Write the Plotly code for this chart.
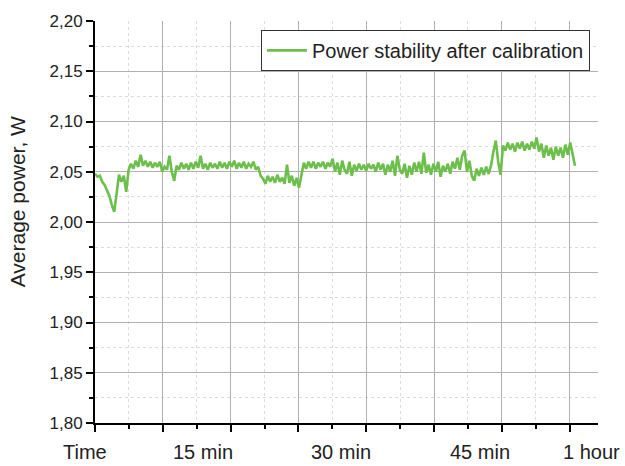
import plotly.graph_objects as go
import numpy as np

# ---- data ----
sample_step_min = 0.3  # minutes between samples
power_w = [
    2.048, 2.045, 2.046, 2.040, 2.037, 2.031, 2.026, 2.017, 2.010, 2.028,
    2.047, 2.040, 2.046, 2.030, 2.052, 2.058, 2.053, 2.061, 2.055, 2.067,
    2.056, 2.061, 2.055, 2.060, 2.054, 2.059, 2.055, 2.060, 2.050, 2.055,
    2.052, 2.066, 2.050, 2.041, 2.056, 2.052, 2.059, 2.053, 2.058, 2.052,
    2.059, 2.053, 2.060, 2.054, 2.066, 2.053, 2.058, 2.052, 2.059, 2.054,
    2.058, 2.053, 2.060, 2.054, 2.059, 2.053, 2.060, 2.055, 2.061, 2.053,
    2.059, 2.054, 2.060, 2.053, 2.058, 2.055, 2.060, 2.052, 2.055, 2.046,
    2.043, 2.038, 2.046, 2.040, 2.045, 2.039, 2.047, 2.040, 2.044, 2.038,
    2.057, 2.039, 2.046, 2.036, 2.044, 2.034, 2.047, 2.059, 2.053, 2.060,
    2.054, 2.060, 2.053, 2.059, 2.055, 2.060, 2.053, 2.059, 2.055, 2.063,
    2.050, 2.059, 2.047, 2.061, 2.052, 2.048, 2.060, 2.046, 2.057, 2.051,
    2.058, 2.052, 2.057, 2.051, 2.058, 2.053, 2.057, 2.050, 2.059, 2.052,
    2.058, 2.047, 2.057, 2.050, 2.061, 2.046, 2.066, 2.052, 2.048, 2.058,
    2.044, 2.056, 2.047, 2.059, 2.050, 2.060, 2.048, 2.069, 2.049, 2.057,
    2.047, 2.058, 2.050, 2.060, 2.045, 2.056, 2.050, 2.058, 2.048, 2.060,
    2.053, 2.064, 2.052, 2.066, 2.071, 2.050, 2.061, 2.046, 2.041, 2.053,
    2.046, 2.054, 2.047, 2.055, 2.048, 2.056, 2.070, 2.081, 2.060, 2.047,
    2.076, 2.071, 2.079, 2.072, 2.078, 2.070, 2.079, 2.073, 2.080, 2.071,
    2.078, 2.072, 2.080, 2.073, 2.084, 2.070, 2.078, 2.064, 2.076, 2.066,
    2.074, 2.062, 2.075, 2.066, 2.074, 2.064, 2.077, 2.067, 2.079, 2.066,
    2.056,
]
time_min = np.arange(len(power_w)) * sample_step_min

x_label_text = ["Time", "15 min", "30 min", "45 min", "1 hour"]
x_label_pos = [-1.25, 13.5, 30.75, 48.1, 62.1]  # minutes

series_name = "Power stability after calibration"
y_title = "Average power, W"

# ---- style ----
FONT = "Liberation Sans, Arial, sans-serif"
TXT = "#222222"
GREEN = "#6cbf4a"
X_RANGE = [0, 62.875]
Y_RANGE = [1.80, 2.20]
X_MAJOR = 8.475
Y_MAJOR = 0.05

fig = go.Figure()
fig.add_trace(go.Scatter(
    x=time_min, y=power_w, mode="lines", name=series_name,
    line=dict(color=GREEN, width=2.6), xaxis="x", yaxis="y",
))

common_grid = dict(showgrid=True, gridcolor="#b0b0b0", gridwidth=1, zeroline=False)

fig.update_layout(
    width=625, height=466,
    margin=dict(l=95, r=27, t=17, b=43),
    paper_bgcolor="white", plot_bgcolor="white",
    separators=",.",
    font=dict(family=FONT, color=TXT, size=17),
    showlegend=True,
    legend=dict(
        x=0.984, xanchor="right", y=0.978, yanchor="top",
        bordercolor="#333333", borderwidth=1, bgcolor="white",
        font=dict(size=20, family=FONT, color=TXT),
        tracegroupgap=0, itemwidth=40,
    ),
    xaxis=dict(
        range=X_RANGE, tickmode="linear", tick0=0, dtick=X_MAJOR,
        showticklabels=False, ticks="outside", ticklen=7, tickwidth=1.5,
        tickcolor="black", showline=True, linecolor="black", linewidth=2,
        minor=dict(dtick=X_MAJOR / 2, ticks="outside", ticklen=4, tickwidth=1.5,
                   tickcolor="black", showgrid=True, gridcolor="#dcdcdc",
                   griddash="dot", gridwidth=1),
        **common_grid,
    ),
    xaxis2=dict(
        range=X_RANGE, overlaying="x", side="top", tickmode="linear", tick0=0,
        dtick=X_MAJOR, showticklabels=False, ticks="inside", ticklen=6,
        tickwidth=1.5, tickcolor="black", showline=True, linecolor="black",
        linewidth=2, showgrid=False, zeroline=False,
        minor=dict(dtick=X_MAJOR / 2, ticks="inside", ticklen=6, tickwidth=1.5,
                   tickcolor="black", showgrid=False),
    ),
    yaxis=dict(
        range=Y_RANGE, tickmode="linear", tick0=1.80, dtick=Y_MAJOR,
        tickformat=".2f", ticks="outside", ticklen=7, tickwidth=1.5,
        tickcolor="black", showline=True, linecolor="black", linewidth=2,
        tickfont=dict(size=17, family=FONT, color=TXT),
        minor=dict(dtick=Y_MAJOR / 2, ticks="outside", ticklen=4, tickwidth=1.5,
                   tickcolor="black", showgrid=True, gridcolor="#dcdcdc",
                   griddash="dot", gridwidth=1),
        **common_grid,
    ),
    yaxis2=dict(
        range=Y_RANGE, overlaying="y", side="right", tickmode="linear",
        tick0=1.80, dtick=Y_MAJOR, showticklabels=False, ticks="inside",
        ticklen=6, tickwidth=1.5, tickcolor="black", showline=True,
        linecolor="black", linewidth=2, showgrid=False, zeroline=False,
        minor=dict(dtick=Y_MAJOR / 2, ticks="inside", ticklen=6, tickwidth=1.5,
                   tickcolor="black", showgrid=False),
    ),
)

# bottom labels placed in paper coordinates converted from minutes
for txt, pos in zip(x_label_text, x_label_pos):
    fig.add_annotation(
        x=(pos - X_RANGE[0]) / (X_RANGE[1] - X_RANGE[0]), y=0,
        xref="paper", yref="paper", text=txt, showarrow=False,
        xanchor="center", yanchor="middle", yshift=-29,
        font=dict(size=20, family=FONT, color=TXT),
    )

fig.add_annotation(
    x=0, y=0.549, xref="paper", yref="paper", text=y_title, showarrow=False,
    textangle=-90, xanchor="center", yanchor="middle", xshift=-78,
    font=dict(size=21, family=FONT, color=TXT),
)

fig.write_html("out.html")
